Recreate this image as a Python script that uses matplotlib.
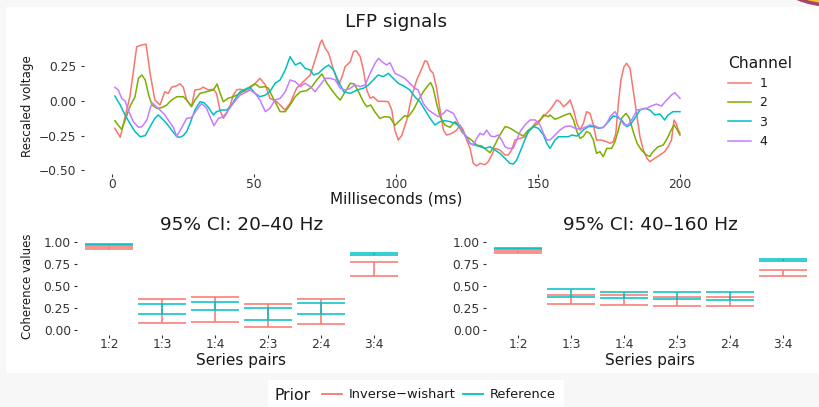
import matplotlib
matplotlib.use("Agg")
import numpy as np
import matplotlib.pyplot as plt
from matplotlib.lines import Line2D
from matplotlib.patches import Rectangle, Ellipse

# ---- LFP traces: time (ms) and rescaled voltage per channel ----
ch1_t = [1, 2.9, 6.3, 8.7, 10.5, 12, 13.4, 15.1, 16.9, 18.6, 19.8, 21, 22.8, 23.9, 25.1, 26.3, 28, 29.2,
         31, 32.1, 33.9, 35.7, 36.8, 38, 39.2, 40.4, 41.5, 42.7, 43.9, 45.1, 47.4, 48.6, 50.4, 52.1, 54,
         55.6, 58, 59.8, 60.9, 62.7, 65, 67.4, 69.8, 71.5, 73.3, 73.9, 75.1, 76.3, 78, 79.8, 81, 82.1,
         83.9, 85, 86, 87.4, 88.5, 89.7, 90.9, 92, 93.7, 95.5, 97.3, 98.5, 99.6, 100.8, 102, 103.8, 105.5,
         107.3, 109.1, 110.2, 111, 112, 113.1, 114.3, 115.5, 116.7, 117.8, 119.6, 121.4, 122.5, 123.7,
         124.9, 126.1, 127.2, 128.4, 129.6, 131.3, 132.5, 133.7, 134.8, 136.6, 138.4, 139.5, 140.7, 141.9,
         143.6, 145.4, 147.2, 149, 150.7, 152.5, 154.2, 155.4, 156.6, 157.7, 159, 160.2, 161.3, 162.5,
         163.7, 164.8, 166, 167.1, 168.3, 169.5, 170.6, 172.4, 174.2, 175.4, 176.5, 177.4, 178.3, 179.2,
         180.3, 181.2, 182.4, 183.5, 184.7, 185.9, 187.1, 188.4, 189.4, 191.1, 192.9, 194.6, 195.8, 197,
         197.9, 198.6, 199.4, 200]
ch1_v = [-0.197, -0.262, 0.031, 0.392, 0.405, 0.41, 0.2, 0.007, -0.029, 0.067, 0.055, 0.1, 0.11, 0.125,
         0.1, 0.007, -0.04, 0.08, 0.085, 0.1, 0.08, 0.085, 0.055, -0.065, -0.125, -0.089, -0.041, 0.043,
         0.08, 0.085, 0.067, 0.092, 0.127, 0.164, 0.116, 0.02, -0.005, -0.041, -0.065, -0.017, 0.092,
         0.14, 0.188, 0.296, 0.417, 0.44, 0.38, 0.344, 0.224, 0.116, 0.176, 0.248, 0.284, 0.356, 0.363,
         0.32, 0.224, 0.079, 0.02, 0.031, -0.002, -0.002, -0.005, -0.065, -0.21, -0.282, -0.25, -0.137,
         0.031, 0.152, 0.236, 0.291, 0.284, 0.224, 0.2, 0.092, -0.065, -0.21, -0.246, -0.234, -0.21,
         -0.173, -0.21, -0.282, -0.342, -0.45, -0.469, -0.45, -0.46, -0.438, -0.39, -0.342, -0.354,
         -0.39, -0.39, -0.354, -0.282, -0.27, -0.258, -0.21, -0.161, -0.137, -0.101, -0.065, -0.03,
         0.007, -0.005, -0.041, -0.02, 0.007, -0.065, -0.161, -0.21, -0.161, -0.077, -0.089, -0.173,
         -0.282, -0.282, -0.294, -0.306, -0.294, -0.233, -0.017, 0.152, 0.248, 0.272, 0.236, 0.079,
         -0.089, -0.258, -0.354, -0.414, -0.438, -0.414, -0.39, -0.366, -0.33, -0.282, -0.137, -0.16,
         -0.21, -0.233]

ch2_t = [1, 2, 3.4, 4.6, 6.3, 8.1, 9.3, 10.5, 11.7, 12.9, 14.1, 15.8, 17.5, 19.2, 21, 22.8, 25.1, 26.3,
         28, 29.2, 31, 33.3, 35.7, 37, 38, 39.2, 40.9, 42.7, 45.1, 47.4, 48.6, 50.4, 52.1, 54, 55.1, 56.2,
         58, 59.2, 61, 62.7, 64.5, 66.3, 68.6, 70.4, 72.1, 73.9, 75.7, 77.4, 79.2, 80.4, 82.1, 83.9, 85.3,
         86.8, 88.5, 89.7, 91.1, 92.5, 94.3, 96.1, 97.9, 99.6, 101.4, 103.1, 104.3, 106.1, 107.9, 109.6,
         111.4, 112.2, 113.1, 114.3, 115.5, 117.2, 119, 120.8, 121.9, 123.1, 124.9, 126.6, 128.4, 130.2,
         131.9, 133.1, 134.8, 136.6, 138.4, 139.5, 141.3, 143, 144.8, 146.6, 148.4, 150.1, 151.9, 153.7,
         154.2, 156, 157.7, 159.5, 161.3, 162.5, 163.7, 164.8, 166, 167.1, 168.3, 169.5, 170.6, 171.8,
         173, 174.2, 175.9, 177.1, 178.3, 179.4, 181, 182.2, 183.5, 184.9, 186.4, 188.2, 189.4, 190.5,
         192.3, 194.1, 195.5, 196.6, 197.9, 198.8, 200]
ch2_v = [-0.142, -0.17, -0.205, -0.14, -0.041, 0.03, 0.164, 0.188, 0.152, 0.043, -0.029, -0.053, -0.048,
         -0.03, 0.007, 0.031, 0.031, 0.007, -0.04, 0.007, 0.055, 0.067, 0.08, 0.123, 0.06, -0.005, 0.02,
         0.031, 0.055, 0.085, 0.104, 0.123, 0.099, 0.104, 0.092, 0.043, -0.029, -0.077, -0.077, -0.029,
         0.031, 0.067, 0.075, 0.104, 0.152, 0.195, 0.128, 0.079, 0.031, 0.007, 0.067, 0.128, 0.123,
         0.067, -0.005, -0.041, -0.029, -0.077, -0.125, -0.113, -0.118, -0.176, -0.14, -0.105, -0.113,
         -0.065, 0.007, 0.067, 0.116, 0.133, 0.092, -0.017, -0.113, -0.173, -0.19, -0.149, -0.173,
         -0.221, -0.258, -0.282, -0.318, -0.325, -0.354, -0.373, -0.318, -0.245, -0.185, -0.19, -0.21,
         -0.233, -0.253, -0.21, -0.185, -0.161, -0.101, -0.113, -0.101, -0.132, -0.118, -0.101, -0.089,
         -0.137, -0.221, -0.27, -0.255, -0.221, -0.233, -0.282, -0.378, -0.366, -0.402, -0.342, -0.342,
         -0.294, -0.21, -0.125, -0.089, -0.125, -0.221, -0.306, -0.354, -0.39, -0.4, -0.366, -0.33,
         -0.318, -0.27, -0.221, -0.173, -0.2, -0.246]

ch3_t = [1, 2.9, 4.6, 6.3, 8.1, 9.9, 11.7, 13.4, 15.1, 16.3, 17.5, 19.2, 21, 22.8, 23.9, 25.1, 26.3, 27.5,
         29.2, 31, 32.4, 33.9, 35.7, 36.8, 38.6, 40.4, 42.1, 43.9, 45.1, 47.4, 48.6, 50.4, 52.1, 54, 55.6,
         57.4, 59.2, 61, 62.7, 64.5, 66.3, 68, 69.8, 71, 72.7, 74.5, 76.3, 78, 79.8, 81.6, 83.9, 86.2, 88.5,
         90.3, 92, 93.7, 95.5, 97.3, 99, 100.8, 103.1, 104.9, 106.6, 108.4, 110.2, 112, 113.7, 115.5,
         117.2, 119, 120.8, 122.5, 124.3, 126.1, 127.8, 129.6, 131.4, 133.1, 134.8, 136.6, 138.4, 140.1,
         141.3, 142.5, 143.7, 145.1, 146.6, 148.4, 150.1, 151.9, 153.1, 154.2, 156, 157.2, 159, 160.7,
         161.9, 163.7, 164.8, 165.9, 167.7, 169.5, 171.3, 173, 174.8, 176.5, 177.7, 179.4, 181.2, 182.4,
         184.1, 185.9, 187.6, 189.4, 191.1, 192.9, 194.6, 195.8, 197.5, 200]
ch3_v = [0.036, -0.029, -0.101, -0.161, -0.221, -0.258, -0.25, -0.185, -0.125, -0.101, -0.125, -0.161,
         -0.21, -0.258, -0.262, -0.25, -0.22, -0.161, -0.065, -0.005, -0.012, -0.045, -0.101, -0.077,
         -0.065, -0.065, -0.029, 0.031, 0.067, 0.09, 0.099, 0.055, 0.031, 0.043, 0.067, 0.128, 0.152,
         0.224, 0.32, 0.26, 0.277, 0.236, 0.224, 0.188, 0.2, 0.236, 0.26, 0.224, 0.14, 0.067, 0.055,
         0.079, 0.092, 0.116, 0.152, 0.188, 0.176, 0.2, 0.164, 0.128, 0.104, 0.079, 0.031, -0.005,
         -0.065, -0.125, -0.173, -0.149, -0.142, -0.149, -0.161, -0.185, -0.246, -0.306, -0.318, -0.33,
         -0.342, -0.33, -0.354, -0.378, -0.414, -0.45, -0.455, -0.426, -0.366, -0.294, -0.221, -0.185,
         -0.197, -0.245, -0.306, -0.342, -0.282, -0.258, -0.258, -0.258, -0.246, -0.253, -0.234, -0.21,
         -0.185, -0.185, -0.197, -0.19, -0.149, -0.108, -0.113, -0.137, -0.185, -0.173, -0.125, -0.065,
         -0.053, -0.065, -0.101, -0.094, -0.137, -0.101, -0.077, -0.077]

ch4_t = [1, 2.2, 3.4, 4.6, 5.7, 7.5, 9.3, 10.5, 12.3, 13.2, 14.1, 15.5, 16.9, 18.6, 19.8, 21.6, 22.8, 24.6,
         26.3, 28, 29.8, 31.5, 33.3, 34.5, 35.9, 37.5, 39.2, 41, 42.7, 45.1, 47.4, 48.6, 50.4, 52.1, 54,
         55.6, 57.4, 59.2, 61, 62.7, 64.5, 66.3, 68, 69.8, 71.5, 73.3, 75.1, 76.9, 78.6, 80.4, 82.1, 83.9,
         85.5, 87.4, 89.1, 90.9, 92.6, 93.8, 95, 96.7, 97.9, 99.6, 101.4, 103.1, 104.9, 106.6, 107.8,
         109.6, 111.4, 113.1, 114.9, 116.7, 117.8, 119, 120.2, 121.4, 123.1, 124.9, 126.1, 127.2, 128.4,
         129.6, 130.8, 131.9, 133.3, 134.8, 136, 137.2, 138.4, 139.5, 141.3, 142.5, 143.7, 145.4, 147.2,
         149, 150.7, 151.9, 153.1, 154.2, 156, 157.7, 159.5, 161.3, 163.1, 164.8, 166.6, 168.3, 170.1,
         171.8, 173, 174.2, 175.4, 177.1, 178.6, 180.3, 181.8, 183.3, 184.9, 186.4, 188.2, 189.9, 191.7,
         193.5, 195.3, 197, 198.2, 200]
ch4_v = [0.099, 0.08, 0.019, 0.0, -0.065, -0.149, -0.19, -0.186, -0.137, -0.07, -0.012, -0.04, -0.065,
         -0.1, -0.137, -0.19, -0.255, -0.19, -0.125, -0.12, -0.065, -0.017, -0.053, -0.113, -0.178,
         -0.125, -0.113, -0.065, -0.017, 0.043, 0.067, 0.079, 0.055, 0.007, -0.077, -0.053, 0.007,
         0.019, 0.067, 0.152, 0.14, 0.104, 0.128, 0.104, 0.067, 0.116, 0.164, 0.164, 0.152, 0.092,
         0.079, 0.092, 0.116, 0.104, 0.116, 0.2, 0.272, 0.308, 0.284, 0.26, 0.277, 0.2, 0.182, 0.164,
         0.128, 0.092, 0.08, -0.017, -0.065, -0.089, -0.113, -0.089, -0.065, -0.077, -0.089, -0.137,
         -0.21, -0.27, -0.306, -0.318, -0.27, -0.233, -0.245, -0.21, -0.253, -0.258, -0.245, -0.282,
         -0.33, -0.342, -0.342, -0.282, -0.221, -0.173, -0.137, -0.137, -0.173, -0.233, -0.282, -0.282,
         -0.246, -0.21, -0.185, -0.18, -0.197, -0.205, -0.19, -0.173, -0.18, -0.197, -0.19, -0.161,
         -0.113, -0.077, -0.125, -0.173, -0.173, -0.125, -0.065, -0.06, -0.053, -0.036, -0.022, -0.036,
         0.007, 0.043, 0.06, 0.019]

channels = ["1", "2", "3", "4"]
channel_colors = ["#F8766D", "#7CAE00", "#00BFC4", "#C77CFF"]

# ---- coherence 95% credible intervals per series pair ----
pairs = ["1:2", "1:3", "1:4", "2:3", "2:4", "3:4"]
priors = ["Inverse\u2212wishart", "Reference"]
prior_colors = ["#F8766D", "#00BFC4"]

iw_lo_20_40 = [0.928, 0.087, 0.098, 0.042, 0.076, 0.621]
iw_hi_20_40 = [0.951, 0.352, 0.383, 0.299, 0.352, 0.773]
ref_lo_20_40 = [0.974, 0.182, 0.231, 0.117, 0.186, 0.852]
ref_hi_20_40 = [0.985, 0.295, 0.326, 0.250, 0.307, 0.879]

iw_lo_40_160 = [0.882, 0.303, 0.288, 0.273, 0.277, 0.614]
iw_hi_40_160 = [0.905, 0.405, 0.398, 0.379, 0.383, 0.686]
ref_lo_40_160 = [0.925, 0.383, 0.367, 0.360, 0.345, 0.784]
ref_hi_40_160 = [0.940, 0.466, 0.436, 0.436, 0.432, 0.814]

W, H = 820, 407
TXT = "#1a1a1a"
TICK = "#333333"
TITLE_SIZE = 13.3
LABEL_SIZE = 11
TICK_SIZE = 8.8

fig = plt.figure(figsize=(W / 100, H / 100), dpi=100, facecolor="#f7f7f7")

# badge peeking in at the top-right corner
fig.patches.append(Ellipse((830 / W, 1 + 80 / H), 170 / W, 170 / H, transform=fig.transFigure,
                           facecolor="#f2c230", edgecolor="#a3456f", lw=2.5, zorder=-3))
# white plotting panel and legend strip
fig.patches.append(Rectangle((6 / W, 1 - 373 / H), (W - 6) / W, 366 / H, transform=fig.transFigure,
                             facecolor="white", edgecolor="none", zorder=-2))
fig.patches.append(Rectangle((268 / W, 0), 296 / W, 27 / H, transform=fig.transFigure,
                             facecolor="white", edgecolor="none", zorder=-2))


def px_axes(x0, x1, y0, y1):
    return fig.add_axes([x0 / W, 1 - y1 / H, (x1 - x0) / W, (y1 - y0) / H], facecolor="none")


def style(ax, ypad):
    for s in ax.spines.values():
        s.set_visible(False)
    ax.tick_params(direction="out", length=2.5, width=0.8, color=TICK, labelcolor=TICK,
                   labelsize=TICK_SIZE)
    ax.tick_params(axis="x", pad=0)
    ax.tick_params(axis="y", pad=ypad)


# ---- LFP signals ----
ax = px_axes(83.6, 708.4, 37.3, 174.4)
for t, v, c, lab in zip([ch1_t, ch2_t, ch3_t, ch4_t], [ch1_v, ch2_v, ch3_v, ch4_v],
                        channel_colors, channels):
    ax.plot(t, v, color=c, lw=1.1, label=lab)
ax.set_xlim(-10, 210)
ax.set_ylim(-0.53, 0.46)
ax.set_xticks([0, 50, 100, 150, 200])
ax.set_yticks([-0.5, -0.25, 0, 0.25])
ax.set_yticklabels(["\u22120.50", "\u22120.25", "0.00", "0.25"])
style(ax, 2.5)
ax.set_title("LFP signals", fontsize=TITLE_SIZE, color=TXT, pad=7.4)
ax.set_xlabel("Milliseconds (ms)", fontsize=LABEL_SIZE, color=TXT)
ax.xaxis.set_label_coords(0.5, -0.128)
ax.set_ylabel("Rescaled voltage", fontsize=8.6, color=TXT)
ax.yaxis.set_label_coords(-0.0794, 0.5)

leg = ax.legend(loc="upper left", bbox_to_anchor=(728 / W, 1 - 56 / H), bbox_transform=fig.transFigure,
                frameon=False, borderpad=0, borderaxespad=0, title="Channel", alignment="left",
                title_fontsize=11.2, fontsize=9, handlelength=1.85, handletextpad=0.65, labelspacing=0.5)
for txt in leg.get_texts():
    txt.set_color(TXT)
leg.get_title().set_color(TXT)

# ---- coherence panels ----
pos = np.arange(1, len(pairs) + 1)
cap_half = 0.45
panels = [
    ((77.2, 405.8), "95% CI: 20\u201340 Hz", [(iw_lo_20_40, iw_hi_20_40), (ref_lo_20_40, ref_hi_20_40)]),
    ((486.2, 814.8), "95% CI: 40\u2013160 Hz", [(iw_lo_40_160, iw_hi_40_160), (ref_lo_40_160, ref_hi_40_160)]),
]
for i, ((x0, x1), title, bounds) in enumerate(panels):
    bx = px_axes(x0, x1, 237.9, 334.7)
    for (lo, hi), c in zip(bounds, prior_colors):
        bx.vlines(pos, lo, hi, color=c, lw=1.3, alpha=0.85)
        bx.hlines(lo, pos - cap_half, pos + cap_half, color=c, lw=1.3, alpha=0.85)
        bx.hlines(hi, pos - cap_half, pos + cap_half, color=c, lw=1.3, alpha=0.85)
    bx.set_xlim(0.4, 6.6)
    bx.set_ylim(-0.05, 1.05)
    bx.set_xticks(pos)
    bx.set_xticklabels(pairs)
    bx.set_yticks([0, 0.25, 0.5, 0.75, 1.0])
    bx.set_yticklabels(["0.00", "0.25", "0.50", "0.75", "1.00"])
    style(bx, 2)
    bx.set_title(title, fontsize=TITLE_SIZE, color=TXT, pad=5.7)
    bx.set_xlabel("Series pairs", fontsize=LABEL_SIZE, color=TXT)
    bx.xaxis.set_label_coords(0.5, -0.184)
    if i == 0:
        bx.set_ylabel("Coherence values", fontsize=8.5, color=TXT)
        bx.yaxis.set_label_coords(-0.131, 0.5)

# ---- prior legend ----
fig.text(275 / W, 1 - 395 / H, "Prior", fontsize=11.3, color=TXT, ha="left", va="center")
handles = [Line2D([], [], color=c, lw=1.3) for c in prior_colors]
fig.legend(handles, priors, ncol=2, loc="center left", bbox_to_anchor=(322 / W, 1 - 395 / H),
           frameon=False, borderpad=0, borderaxespad=0, fontsize=9.4, handlelength=1.54,
           handletextpad=0.54, columnspacing=0.54, labelcolor=TXT)

fig.savefig("out.png", dpi=100, facecolor=fig.get_facecolor())
